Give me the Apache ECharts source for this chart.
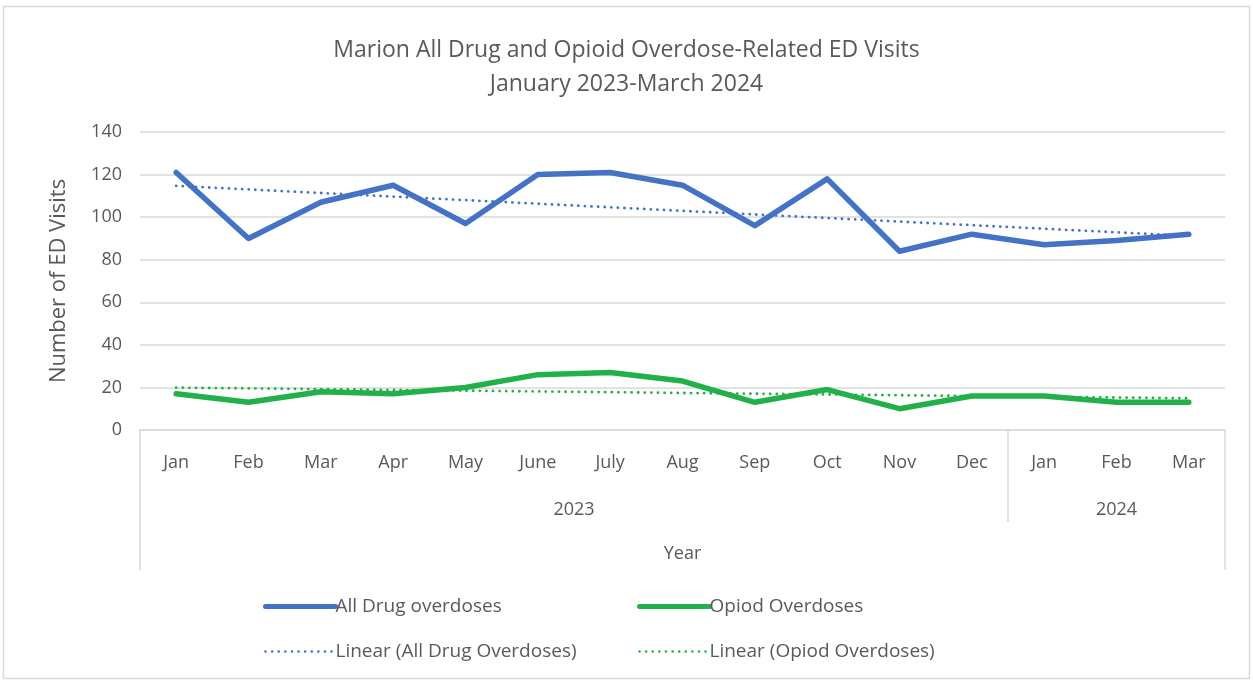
<!DOCTYPE html>
<html><head><meta charset="utf-8">
<script src="https://cdn.jsdelivr.net/npm/echarts@6/dist/echarts.min.js"></script>
<style>html,body{margin:0;padding:0;background:#fff}#c{width:1253px;height:682px}</style>
</head><body><div id="c"></div>
<script>
const months = ['Jan','Feb','Mar','Apr','May','June','July','Aug','Sep','Oct','Nov','Dec','Jan','Feb','Mar'];
const yearGroups = ['2023','2024'];
const yearSpans = [12, 3];
const allDrug = [121, 90, 107, 115, 97, 120, 121, 115, 96, 118, 84, 92, 87, 89, 92];
const opioid = [17, 13, 18, 17, 20, 26, 27, 23, 13, 19, 10, 16, 16, 13, 13];
const allDrugTrendEnds = [114.7, 91.2];
const opioidTrendEnds = [19.9, 14.9];
const yTicks = [0, 20, 40, 60, 80, 100, 120, 140];

function trend(ends) {
  const a = months.map(() => null);
  a[0] = ends[0]; a[a.length - 1] = ends[1];
  return a;
}
const BLUE = '#4472C4', GREEN = '#22B04B', GRAY = '#595959', LINE = '#d9d9d9';
const FONT = '"Open Sans", "Noto Sans", sans-serif';
const DOT = [0.1, 6.5];

const chart = echarts.init(document.getElementById('c'));
const legText = { color: GRAY, fontSize: 19, fontFamily: FONT, padding: [0, 0, 0, -5] };
const option = {
  animation: false,
  textStyle: { fontFamily: FONT },
  title: {
    text: 'Marion All Drug and Opioid Overdose-Related ED Visits\nJanuary 2023-March 2024',
    left: 'center', top: 28,
    textStyle: { fontFamily: FONT, fontSize: 23, fontWeight: 'normal', color: GRAY, lineHeight: 34 }
  },
  grid: { left: 140, right: 28, top: 132, bottom: 252, containLabel: false },
  xAxis: {
    type: 'category', data: months, boundaryGap: true,
    axisLine: { lineStyle: { color: LINE, width: 1.5 } },
    axisTick: { show: false },
    axisLabel: { color: GRAY, fontSize: 18, margin: 24, interval: 0, fontFamily: FONT }
  },
  yAxis: {
    type: 'value', min: yTicks[0], max: yTicks[yTicks.length - 1], interval: 20,
    name: 'Number of ED Visits', nameLocation: 'middle', nameGap: 70,
    nameTextStyle: { color: GRAY, fontSize: 22, fontFamily: FONT },
    axisLine: { show: false }, axisTick: { show: false },
    axisLabel: { color: GRAY, fontSize: 18, margin: 18, fontFamily: FONT },
    splitLine: { lineStyle: { color: LINE, width: 1.5 } }
  },
  legend: [
    { left: 258, top: 592, orient: 'vertical', itemGap: 26, itemWidth: 70, itemHeight: 6,
      itemStyle: { opacity: 0 },
      data: [
        { name: 'All Drug overdoses', lineStyle: { width: 5, cap: 'round' } },
        { name: 'Linear (All Drug Overdoses)', lineStyle: { width: 2.5, type: DOT, cap: 'round' } }
      ],
      textStyle: legText },
    { left: 632, top: 592, orient: 'vertical', itemGap: 26, itemWidth: 70, itemHeight: 6,
      itemStyle: { opacity: 0 },
      data: [
        { name: 'Opiod Overdoses', lineStyle: { width: 5, cap: 'round' } },
        { name: 'Linear (Opiod Overdoses)', lineStyle: { width: 2.5, type: DOT, cap: 'round' } }
      ],
      textStyle: legText }
  ],
  series: [
    { name: 'All Drug overdoses', type: 'line', data: allDrug, symbol: 'none', z: 3,
      lineStyle: { color: BLUE, width: 5.5, cap: 'round', join: 'round' }, itemStyle: { color: BLUE } },
    { name: 'Opiod Overdoses', type: 'line', data: opioid, symbol: 'none', z: 3,
      lineStyle: { color: GREEN, width: 5.5, cap: 'round', join: 'round' }, itemStyle: { color: GREEN } },
    { name: 'Linear (All Drug Overdoses)', type: 'line', data: trend(allDrugTrendEnds), connectNulls: true,
      symbol: 'none', z: 2,
      lineStyle: { color: BLUE, width: 2.8, type: DOT, cap: 'round' }, itemStyle: { color: BLUE } },
    { name: 'Linear (Opiod Overdoses)', type: 'line', data: trend(opioidTrendEnds), connectNulls: true,
      symbol: 'none', z: 2,
      lineStyle: { color: GREEN, width: 2.8, type: DOT, cap: 'round' }, itemStyle: { color: GREEN } }
  ]
};
chart.setOption(option);

// multi-level category axis decorations, positioned from the axis scale
const y0 = chart.convertToPixel({ yAxisIndex: 0 }, 0);
const bandW = chart.convertToPixel({ xAxisIndex: 0 }, 1) - chart.convertToPixel({ xAxisIndex: 0 }, 0);
const edge = i => chart.convertToPixel({ xAxisIndex: 0 }, i) - bandW / 2;
const g = [];
g.push({ type: 'rect', shape: { x: 3.5, y: 6.5, width: 1246, height: 672 }, style: { fill: 'none', stroke: LINE, lineWidth: 1.5 }, silent: true });
let start = 0;
const left = edge(0), right = edge(months.length);
g.push({ type: 'line', shape: { x1: left, y1: y0, x2: left, y2: y0 + 140 }, style: { stroke: LINE, lineWidth: 1.5 } });
g.push({ type: 'line', shape: { x1: right, y1: y0, x2: right, y2: y0 + 140 }, style: { stroke: LINE, lineWidth: 1.5 } });
yearGroups.forEach((yr, k) => {
  const a = edge(start), b = edge(start + yearSpans[k]);
  if (k > 0) g.push({ type: 'line', shape: { x1: a, y1: y0, x2: a, y2: y0 + 92 }, style: { stroke: LINE, lineWidth: 1.5 } });
  g.push({ type: 'text', x: (a + b) / 2, y: y0 + 80,
    style: { text: yr, fill: GRAY, font: '18px ' + FONT, textAlign: 'center', textVerticalAlign: 'middle' } });
  start += yearSpans[k];
});
g.push({ type: 'text', x: (left + right) / 2, y: y0 + 124,
  style: { text: 'Year', fill: GRAY, font: '18px ' + FONT, textAlign: 'center', textVerticalAlign: 'middle' } });
chart.setOption({ graphic: g });
</script></body></html>
